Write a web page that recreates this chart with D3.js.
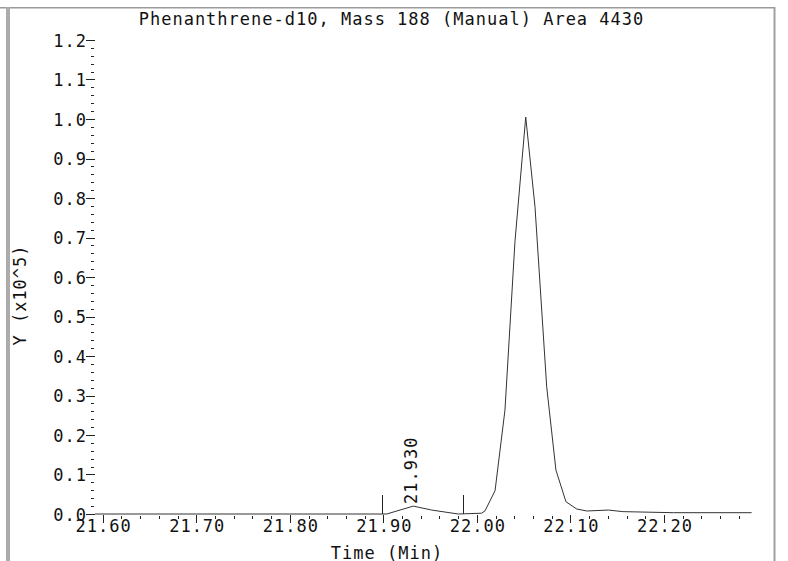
<!DOCTYPE html>
<html>
<head>
<meta charset="utf-8">
<script src="https://cdn.jsdelivr.net/npm/d3@7"></script>
<style>
  html, body { margin: 0; padding: 0; background: #fff; }
  svg { display: block; }
  text { font-family: "DejaVu Sans Mono", "Liberation Mono", monospace; font-size: 17px; letter-spacing: 1.0px; fill: #111; }
</style>
</head>
<body>
<svg id="chart" width="788" height="561"></svg>
<script>
// ---- data (Y in units of x10^5, time in minutes) ----
const titleText = "Phenanthrene-d10, Mass 188 (Manual) Area 4430";
const xAxisTitle = "Time (Min)";
const yAxisTitle = "Y (x10^5)";
const times = [21.5918, 21.700, 21.800, 21.9036, 21.932, 21.9517, 21.980, 22.005, 22.0087, 22.0194, 22.030, 22.0407, 22.0522, 22.0621, 22.0746, 22.0845, 22.0952, 22.1067, 22.1174, 22.1405, 22.156, 22.210, 22.2937];
const values = [0, 0, 0, 0, 0.020, 0.010, 0, 0.002, 0.008, 0.059, 0.263, 0.690, 1.005, 0.778, 0.322, 0.111, 0.031, 0.0127, 0.0076, 0.010, 0.006, 0.0033, 0.0033];
const peakLabel = "21.930";
const peakTime = 21.930;
const peakBounds = [21.8982, 21.9855];
const xTickValues = [21.60, 21.70, 21.80, 21.90, 22.00, 22.10, 22.20];
const xTickLabels = ["21.60", "21.70", "21.80", "21.90", "22.00", "22.10", "22.20"];
const yTickValues = [0.0, 0.1, 0.2, 0.3, 0.4, 0.5, 0.6, 0.7, 0.8, 0.9, 1.0, 1.1, 1.2];
const yTickLabels = ["0.0", "0.1", "0.2", "0.3", "0.4", "0.5", "0.6", "0.7", "0.8", "0.9", "1.0", "1.1", "1.2"];

const svg = d3.select("#chart");

const x = d3.scaleLinear().domain([21.60, 22.20]).range([102.7, 664]);
const y = d3.scaleLinear().domain([0, 1.2]).range([514, 40]);

// frame
svg.append("rect").attr("x", 0).attr("y", 7).attr("width", 775).attr("height", 1.5).attr("fill", "#9a9a9a");
svg.append("rect").attr("x", 6).attr("y", 7).attr("width", 4).attr("height", 554).attr("fill", "#acacac");
svg.append("rect").attr("x", 773.5).attr("y", 7).attr("width", 2).attr("height", 554).attr("fill", "#a0a0a0");

// title
svg.append("text").attr("x", 391.5).attr("y", 25).attr("text-anchor", "middle").text(titleText);

// y ticks
const yMinor = d3.range(0, 1.2001, 0.02).filter(v => Math.abs(Math.round(v * 10) - v * 10) > 1e-6);
const gy = svg.append("g").attr("stroke", "#222").attr("stroke-width", 1).attr("shape-rendering", "crispEdges");
gy.selectAll("line.maj").data(yTickValues).join("line").attr("class", "maj")
  .attr("x1", 86).attr("x2", 95).attr("y1", d => Math.round(y(d)) + 0.5).attr("y2", d => Math.round(y(d)) + 0.5);
gy.selectAll("line.min").data(yMinor).join("line").attr("class", "min")
  .attr("x1", 91).attr("x2", 94).attr("y1", d => Math.round(y(d)) + 0.5).attr("y2", d => Math.round(y(d)) + 0.5);
svg.append("g").selectAll("text").data(yTickValues).join("text")
  .attr("x", 87).attr("y", d => y(d) + 6.5).attr("text-anchor", "end")
  .text((d, i) => yTickLabels[i]);

// x ticks
const xMinor = d3.range(21.60, 22.2801, 0.02).filter(v => Math.abs(Math.round(v * 10) - v * 10) > 1e-6);
const gx = svg.append("g").attr("stroke", "#222").attr("stroke-width", 1).attr("shape-rendering", "crispEdges");
gx.selectAll("line.maj").data(xTickValues).join("line").attr("class", "maj")
  .attr("x1", d => Math.round(x(d)) + 0.5).attr("x2", d => Math.round(x(d)) + 0.5).attr("y1", 515).attr("y2", 523);
gx.selectAll("line.min").data(xMinor).join("line").attr("class", "min")
  .attr("x1", d => Math.round(x(d)) + 0.5).attr("x2", d => Math.round(x(d)) + 0.5).attr("y1", 516).attr("y2", 519);
svg.append("g").selectAll("text").data(xTickValues).join("text")
  .attr("x", d => x(d) + 1).attr("y", 532).attr("text-anchor", "middle")
  .text((d, i) => xTickLabels[i]);

// axis titles
svg.append("text").attr("x", 387).attr("y", 558.5).attr("text-anchor", "middle").text(xAxisTitle);
svg.append("text").attr("transform", "translate(25.5,295) rotate(-90)").attr("text-anchor", "middle").text(yAxisTitle);

// trace
const line = d3.line().x((d, i) => x(times[i])).y(d => y(d));
svg.append("path").datum(values).attr("d", line)
  .attr("fill", "none").attr("stroke", "#333").attr("stroke-width", 1);

// peak integration markers
svg.append("g").attr("stroke", "#222").attr("shape-rendering", "crispEdges")
  .selectAll("line").data(peakBounds).join("line")
  .attr("x1", d => Math.round(x(d)) + 0.5).attr("x2", d => Math.round(x(d)) + 0.5)
  .attr("y1", y(0)).attr("y2", y(0) - 19);
svg.append("text").attr("transform", `translate(${x(peakTime) + 5.5},504) rotate(-90)`)
  .attr("text-anchor", "start").text(peakLabel);
</script>
</body>
</html>
